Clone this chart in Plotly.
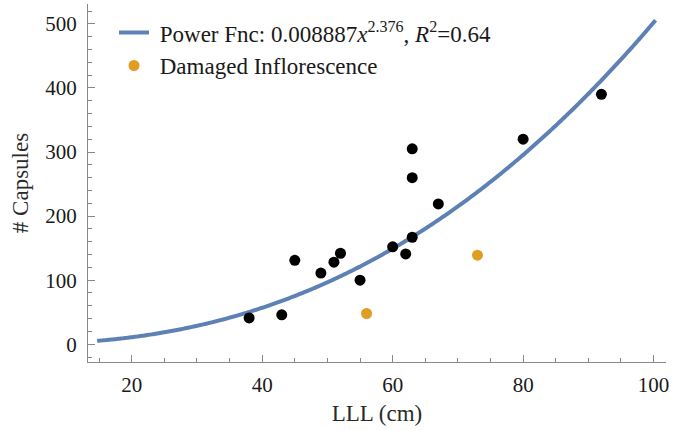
import numpy as np
import plotly.graph_objects as go

# Data
lll_ok = [38, 43, 45, 49, 51, 52, 55, 60, 62, 63, 63, 63, 67, 80, 92]
caps_ok = [41, 46, 131, 111, 128, 142, 100, 152, 141, 167, 260, 305, 219, 320, 390]
lll_damaged = [56, 73]
caps_damaged = [48, 139]
fit_a = 0.008887
fit_b = 2.376
fit_x_min, fit_x_max = 14.7, 100.3

xfit = np.linspace(fit_x_min, fit_x_max, 400)
yfit = fit_a * xfit ** fit_b

BLUE = "#5E81B5"
ORANGE = "#E19C24"
FONT = "Liberation Serif"
NB = "\u00a0"

fig = go.Figure()
fig.add_trace(go.Scatter(
    x=xfit, y=yfit, mode="lines",
    line=dict(color=BLUE, width=4, simplify=False),
    name=NB + "Power Fnc: 0.008887<i>x</i><sup>2.376</sup>, <i>R</i><sup>2</sup>=0.64",
))
fig.add_trace(go.Scatter(
    x=lll_damaged, y=caps_damaged, mode="markers",
    marker=dict(color=ORANGE, size=11),
    name=NB + "Damaged Inflorescence",
))
fig.add_trace(go.Scatter(
    x=lll_ok, y=caps_ok, mode="markers",
    marker=dict(color="black", size=11),
    showlegend=False,
))

axis_common = dict(
    showgrid=False, zeroline=False, showline=True, automargin=False,
    linecolor="#888888", linewidth=1,
    ticks="inside", ticklen=7, tickcolor="#888888", tickwidth=1,
    tickfont=dict(family=FONT, size=21, color="#1a1a1a"),
    title_font=dict(family=FONT, size=23, color="#2a2a2a"),
)

fig.update_xaxes(
    range=[13.3, 101.9], tickvals=[20, 40, 60, 80, 100],
    minor=dict(dtick=5, ticks="inside", ticklen=4, tickcolor="#888888", tick0=0),
    title_text="LLL (cm)", title_standoff=8, ticklabelstandoff=4,
    **axis_common,
)
fig.update_yaxes(
    range=[-27.7, 531], tickvals=[0, 100, 200, 300, 400, 500],
    minor=dict(dtick=20, ticks="inside", ticklen=4, tickcolor="#888888", tick0=0),
    title_text="# Capsules", title_standoff=10, ticklabelstandoff=6,
    **axis_common,
)

fig.update_layout(
    width=683, height=430,
    margin=dict(l=88, r=17, t=4, b=68),
    plot_bgcolor="white", paper_bgcolor="white",
    font=dict(family=FONT, color="#1a1a1a"),
    legend=dict(
        x=0.045, y=0.98, xanchor="left", yanchor="top",
        font=dict(family=FONT, size=23, color="#1a1a1a"),
        bgcolor="rgba(0,0,0,0)", itemwidth=30, tracegroupgap=0,
    ),
)

fig.write_html(
    "out.html",
    config={"displayModeBar": False},
    post_script="document.body.style.margin='0';",
)
